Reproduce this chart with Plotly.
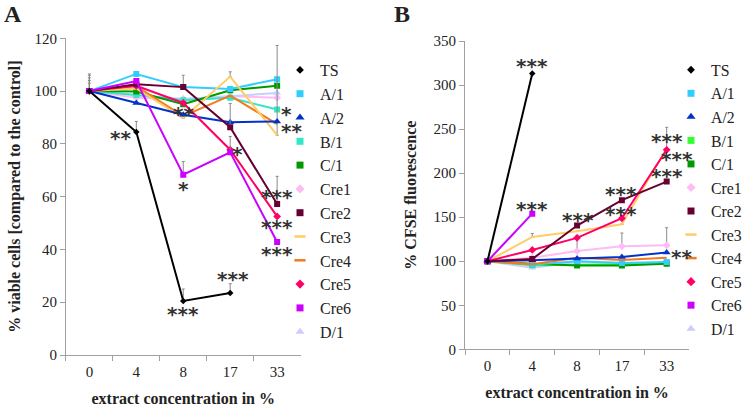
import plotly.graph_objects as go

W, H = 747, 409

categories = ["0", "4", "8", "17", "33"]
series_names = ["TS", "A/1", "A/2", "B/1", "C/1", "Cre1", "Cre2", "Cre3", "Cre4", "Cre5", "Cre6", "D/1"]

# Panel A: % viable cells
viab_TS = [100, 84.5, 20.5, 23.5, None]
viab_A1 = [100, 106.5, 101.5, 100.8, 104.5]
viab_A2 = [100, 95.5, 91.0, 88.2, 88.5]
viab_B1 = [100, 98.5, 96.5, 97.5, 93.0]
viab_C1 = [100, 99.8, 95.0, 100.3, 102.0]
viab_Cre1 = [100, 97.5, 97.0, 98.0, 97.5]
viab_Cre2 = [100, 102.6, 101.5, 86.3, 57.2]
viab_Cre3 = [100, 101.0, 89.8, 105.5, 83.3]
viab_Cre4 = [100, 101.8, 90.5, 98.3, 87.5]
viab_Cre5 = [100, 102.0, 95.5, 77.8, 52.5]
viab_Cre6 = [100, 103.8, 68.3, 76.8, 42.8]
viab_D1 = [100, 98.5, 97.0, 98.0, 99.3]

viab_err_TS = [6.5, 4, 4.5, 3.5, 0]
viab_err_A1 = [5, 0, 0, 0, 0]
viab_err_A2 = [6, 0, 0, 0, 0]
viab_err_Cre2 = [4, 0, 4.5, 9, 10.5]
viab_err_Cre3 = [0, 0, 0, 1.8, 34]
viab_err_Cre6 = [3, 0, 5, 6, 0]

# Panel B: % CFSE fluorescence
cfse_TS = [100, 313, None, None, None]
cfse_A1 = [100, 96, 100, 98, 99]
cfse_A2 = [100, 101, 103, 104.8, 110]
cfse_B1 = [100, 95.5, 96, 96.5, 98]
cfse_C1 = [100, 97, 95, 95, 97]
cfse_Cre1 = [100, 104, 111.5, 117, 118]
cfse_Cre2 = [100, 102.5, 140.5, 169.3, 190.4]
cfse_Cre3 = [100, 127.5, 134, 142, 228]
cfse_Cre4 = [100, 96.5, 104, 101.5, 104]
cfse_Cre5 = [100, 112.8, 126.5, 148.8, 226.5]
cfse_Cre6 = [100, 154, None, None, None]
cfse_D1 = [100, 92.5, 99, 98, 97]

cfse_err_Cre1 = [0, 0, 18, 15, 20]
cfse_err_Cre3 = [0, 4, 0, 0, 24]

colors_A = {"TS": "#000000", "A/1": "#33CCFF", "A/2": "#0033CC", "B/1": "#33E6C8", "C/1": "#009900",
            "Cre1": "#FFBBF5", "Cre2": "#660033", "Cre3": "#FFCC66", "Cre4": "#F47A20",
            "Cre5": "#FF0066", "Cre6": "#CC00FF", "D/1": "#CCCCFF"}
colors_B = dict(colors_A)
colors_B["B/1"] = "#33FF33"

symbols = {"TS": "diamond", "A/1": "square", "A/2": "triangle-up", "B/1": "square", "C/1": "square",
           "Cre1": "diamond", "Cre2": "square", "Cre3": None, "Cre4": None,
           "Cre5": "diamond", "Cre6": "square", "D/1": "triangle-up"}
msize = {"TS": 5, "A/1": 6, "A/2": 7, "B/1": 6, "C/1": 6, "Cre1": 6, "Cre2": 6,
         "Cre3": 0, "Cre4": 0, "Cre5": 6, "Cre6": 6, "D/1": 7}

data_A = {"TS": viab_TS, "A/1": viab_A1, "A/2": viab_A2, "B/1": viab_B1, "C/1": viab_C1,
          "Cre1": viab_Cre1, "Cre2": viab_Cre2, "Cre3": viab_Cre3, "Cre4": viab_Cre4,
          "Cre5": viab_Cre5, "Cre6": viab_Cre6, "D/1": viab_D1}
err_A = {"TS": viab_err_TS, "A/1": viab_err_A1, "A/2": viab_err_A2, "Cre2": viab_err_Cre2,
         "Cre3": viab_err_Cre3, "Cre6": viab_err_Cre6}
data_B = {"TS": cfse_TS, "A/1": cfse_A1, "A/2": cfse_A2, "B/1": cfse_B1, "C/1": cfse_C1,
          "Cre1": cfse_Cre1, "Cre2": cfse_Cre2, "Cre3": cfse_Cre3, "Cre4": cfse_Cre4,
          "Cre5": cfse_Cre5, "Cre6": cfse_Cre6, "D/1": cfse_D1}
err_B = {"Cre1": cfse_err_Cre1, "Cre3": cfse_err_Cre3}

# drawing order (back to front)
order = ["Cre1", "D/1", "B/1", "C/1", "A/1", "Cre4", "Cre3", "A/2", "Cre5", "Cre2", "Cre6", "TS"]

fig = go.Figure()


def add_panel(data, errs, colors, xa, ya, legend):
    for name in order:
        vals = data[name]
        e = errs.get(name)
        kw = {}
        if e is not None:
            kw["error_y"] = dict(type="data", array=e, arrayminus=[0] * len(e), symmetric=False,
                                 color="#8a8a8a", thickness=1, width=1.5)
        sym = symbols[name]
        mode = "lines+markers" if sym else "lines"
        fig.add_trace(go.Scatter(
            x=categories, y=vals, mode=mode, name=name, showlegend=False,
            line=dict(color=colors[name], width=2),
            marker=dict(symbol=sym or "circle", size=msize[name], color=colors[name]),
            xaxis=xa, yaxis=ya, connectgaps=False, **kw))
    for name in series_names:
        sym = symbols[name]
        if sym:
            mk = dict(symbol=sym, size=msize[name] + 1, color=colors[name])
        else:
            mk = dict(symbol="line-ew", size=8, color=colors[name],
                      line=dict(color=colors[name], width=2.5))
        fig.add_trace(go.Scatter(x=[None], y=[None], mode="markers", name=name, marker=mk,
                                 xaxis=xa, yaxis=ya, legend=legend, showlegend=True))


add_panel(data_A, err_A, colors_A, "x", "y", "legend")
add_panel(data_B, err_B, colors_B, "x2", "y2", "legend2")

serif = "Liberation Serif, Times New Roman, serif"
axis_common = dict(showgrid=False, zeroline=False, showline=True, linecolor="#a0a0a0", linewidth=1,
                   ticks="outside", ticklen=5, tickcolor="#a0a0a0", tickwidth=1,
                   tickfont=dict(family=serif, size=15, color="#222222"), automargin=False)

xcommon = dict(axis_common, type="category", categoryorder="array", categoryarray=categories,
               range=[-0.5, 4.5], tickson="boundaries", ticklabelstandoff=3)

fig.update_layout(
    width=W, height=H, template="none",
    margin=dict(l=0, r=0, t=0, b=0),
    paper_bgcolor="white", plot_bgcolor="white",
    xaxis=dict(xcommon, domain=[66 / W, 301 / W], anchor="y",
               title=dict(text="<b>extract concentration in %</b>",
                          font=dict(family=serif, size=16, color="#222222"), standoff=13)),
    yaxis=dict(axis_common, domain=[1 - 355 / H, 1 - 38.3 / H], range=[0, 120], dtick=20, anchor="x",
               title=dict(text="<b>% viable cells [compared to the control]</b>",
                          font=dict(family=serif, size=16, color="#222222"), standoff=9)),
    xaxis2=dict(xcommon, domain=[465.7 / W, 690 / W], anchor="y2",
                title=dict(text="<b>extract concentration in %</b>",
                           font=dict(family=serif, size=16, color="#222222"), standoff=13)),
    yaxis2=dict(axis_common, domain=[1 - 349.3 / H, 1 - 41 / H], range=[0, 350], dtick=50, anchor="x2",
                title=dict(text="<b>% CFSE fluorescence</b>",
                           font=dict(family=serif, size=16, color="#222222"), standoff=12)),
    legend=dict(x=280 / W, xanchor="left", y=1 - 53 / H, yanchor="top", bgcolor="rgba(0,0,0,0)",
                font=dict(family=serif, size=16, color="#222222"), borderwidth=0,
                tracegroupgap=0, itemclick=False),
    legend2=dict(x=672 / W, xanchor="left", y=1 - 53 / H, yanchor="top", bgcolor="rgba(0,0,0,0)",
                 font=dict(family=serif, size=15.8, color="#222222"), borderwidth=0,
                 tracegroupgap=0, itemclick=False),
)

# significance marks (x = category index, y = value)
sig_A = [(0.66, 83.9, "**"), (2.0, 17.1, "***"), (3.06, 30.4, "***"), (2.0, 93.0, "**"),
         (2.0, 64.5, "*"), (3.15, 77.8, "*"), (4.21, 93.0, "*"), (4.3, 86.3, "**"),
         (4.0, 61.5, "***"), (4.0, 50.1, "***"), (4.0, 39.8, "***")]
sig_B = [(1.0, 326, "***"), (1.0, 164, "***"), (2.01, 151.4, "***"), (2.97, 181, "***"),
         (2.97, 158, "***"), (4.0, 241, "***"), (4.24, 220.6, "***"), (4.0, 201, "***"),
         (4.33, 109.4, "**")]

star_font = dict(family="DejaVu Sans", size=20, color="#333333")
for xi, yv, t in sig_A:
    fig.add_annotation(x=xi, y=yv, xref="x", yref="y", text="<b>" + t + "</b>", showarrow=False,
                       font=star_font, yshift=-4)
for xi, yv, t in sig_B:
    fig.add_annotation(x=xi, y=yv, xref="x2", yref="y2", text="<b>" + t + "</b>", showarrow=False,
                       font=star_font, yshift=-4)

fig.add_annotation(x=13 / W, y=1 - 14 / H, xref="paper", yref="paper", text="<b>A</b>",
                   xanchor="center", yanchor="middle",
                   showarrow=False, font=dict(family=serif, size=24, color="#222222"))
fig.add_annotation(x=403 / W, y=1 - 14 / H, xref="paper", yref="paper", text="<b>B</b>",
                   xanchor="center", yanchor="middle",
                   showarrow=False, font=dict(family=serif, size=24, color="#222222"))

fig.write_html("out.html", config={"displayModeBar": False},
               post_script="document.body.style.margin='0px';")
